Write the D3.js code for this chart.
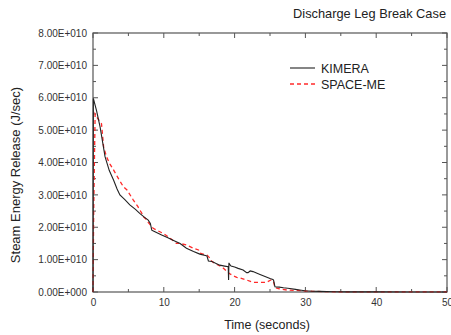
<!DOCTYPE html>
<html><head><meta charset="utf-8">
<script src="https://cdn.jsdelivr.net/npm/d3@7"></script>
<style>body{margin:0;background:#fff;}svg{display:block;font-family:Arial,"Liberation Sans",sans-serif;}</style>
</head><body>
<svg id="c" width="451" height="335"></svg>
<script>
const title = "Discharge Leg Break Case";
const xLabel = "Time (seconds)";
const yLabel = "Steam Energy Release (J/sec)";
const xTicks = [0,10,20,30,40,50];
const yTicks = [0,1e10,2e10,3e10,4e10,5e10,6e10,7e10,8e10];
const yTickLabels = ["0.00E+000","1.00E+010","2.00E+010","3.00E+010","4.00E+010","5.00E+010","6.00E+010","7.00E+010","8.00E+010"];
const seriesNames = ["KIMERA","SPACE-ME"];
// KIMERA (time s, value x1e10)
const kimeraT = [0,0.05,0.5,1.0,1.7,2.3,2.9,3.4,3.8,4.5,5.2,6.0,6.6,7.2,7.8,8.1,8.3,8.6,9.7,10.5,11.3,12.3,13.2,14.2,15.1,16.0,16.1,16.3,16.8,17.9,18.6,19.1,19.15,19.2,19.3,19.5,20.0,20.5,21.2,21.7,21.9,22.2,22.6,23.5,24.3,25.0,25.4,25.5,25.7,26.3,26.9,27.8,28.6,29.2,29.9,31.0,32.0,34,36,40,45,50];
const kimeraV = [0,5.98,5.6,5.1,4.18,3.75,3.46,3.18,3.0,2.85,2.69,2.55,2.43,2.32,2.22,2.12,1.91,1.88,1.76,1.68,1.6,1.5,1.35,1.25,1.17,1.12,1.11,0.96,0.94,0.83,0.8,0.78,0.37,0.9,0.85,0.8,0.77,0.73,0.68,0.6,0.6,0.65,0.63,0.55,0.48,0.42,0.39,0.37,0.16,0.15,0.13,0.11,0.08,0.06,0.04,0.025,0.02,0.01,0.005,0.003,0.002,0.001];
// SPACE-ME
const spaceT = [0,0.1,0.3,0.7,1.2,1.5,1.9,2.4,2.9,3.6,4.3,4.8,5.7,6.3,6.9,7.1,7.5,7.8,8.5,9.0,10.0,10.9,11.8,12.3,13.2,14.2,14.9,15.1,16.1,16.5,16.8,17.5,18.2,19.1,19.4,20.3,20.8,21.7,22.6,23.6,24.5,25.2,25.5,25.7,26.3,27.4,28.5,29.6,31,33,36,40,45,50];
const spaceV = [0,2.5,5.5,5.35,5.2,4.48,4.18,3.95,3.77,3.5,3.25,3.15,2.84,2.65,2.43,2.33,2.25,2.15,1.97,1.91,1.8,1.66,1.5,1.5,1.45,1.35,1.3,1.2,1.14,1.05,0.94,0.85,0.78,0.6,0.55,0.45,0.43,0.37,0.3,0.3,0.3,0.38,0.32,0.14,0.1,0.06,0.05,0.04,0.02,0.01,0.005,0.002,0.001,0.001];

const svg = d3.select("#c");
const x = d3.scaleLinear().domain([0,50]).range([93,447]);
const y = d3.scaleLinear().domain([0,8e10]).range([292,33]);
const axisColor = "#555";
const textColor = "#333";

// plot frame
svg.append("rect").attr("x",93).attr("y",33).attr("width",354).attr("height",259)
  .attr("fill","none").attr("stroke",axisColor).attr("stroke-width",1.2);

const g = svg.append("g");
const xMinor = d3.range(5,50,10);
const yMinor = d3.range(0.5e10,8e10,1e10);
function tick(x1,y1,x2,y2){ g.append("line").attr("x1",x1).attr("y1",y1).attr("x2",x2).attr("y2",y2).attr("stroke",axisColor); }
xTicks.forEach(t=>{ tick(x(t),292,x(t),287); tick(x(t),33,x(t),38); });
xMinor.forEach(t=>{ tick(x(t),292,x(t),289); tick(x(t),33,x(t),36); });
yTicks.forEach(v=>{ tick(93,y(v),98,y(v)); tick(447,y(v),442,y(v)); });
yMinor.forEach(v=>{ tick(93,y(v),96,y(v)); tick(447,y(v),444,y(v)); });

// tick labels via axes (no tick lines)
const xAxis = d3.axisBottom(x).tickValues(xTicks).tickSize(0).tickPadding(7).tickFormat(d3.format("d"));
const xa = svg.append("g").attr("transform","translate(0,292)").call(xAxis);
xa.select(".domain").remove();
xa.selectAll("text").attr("font-size",10).attr("fill",textColor).attr("font-family","Arial, 'Liberation Sans', sans-serif");

const yAxis = d3.axisLeft(y).tickValues(yTicks).tickSize(0).tickPadding(6).tickFormat((d,i)=>yTickLabels[i]);
const ya = svg.append("g").attr("transform","translate(93,0)").call(yAxis);
ya.select(".domain").remove();
ya.selectAll("text").attr("font-size",10).attr("fill",textColor).attr("font-family","Arial, 'Liberation Sans', sans-serif");

// lines
const line = d3.line().x(d=>x(d[0])).y(d=>y(d[1]*1e10));
const kimera = kimeraT.map((t,i)=>[t,kimeraV[i]]);
const space = spaceT.map((t,i)=>[t,spaceV[i]]);
svg.append("path").datum(space).attr("d",line).attr("fill","none")
  .attr("stroke","#ff2a2a").attr("stroke-width",1.3).attr("stroke-dasharray","4,3");
svg.append("path").datum(kimera).attr("d",line).attr("fill","none")
  .attr("stroke","#222").attr("stroke-width",1.1);

// legend
svg.append("line").attr("x1",290).attr("x2",315).attr("y1",68).attr("y2",68).attr("stroke","#222").attr("stroke-width",1.1);
svg.append("line").attr("x1",290).attr("x2",315).attr("y1",84).attr("y2",84).attr("stroke","#ff2a2a").attr("stroke-width",1.3).attr("stroke-dasharray","4,3");
svg.append("text").attr("x",321).attr("y",72.5).attr("font-size",12.5).attr("fill","#222").text(seriesNames[0]);
svg.append("text").attr("x",321).attr("y",88.5).attr("font-size",12.5).attr("fill","#222").text(seriesNames[1]);

// titles
svg.append("text").attr("x",446).attr("y",18).attr("text-anchor","end").attr("font-size",12.8).attr("fill","#222").text(title);
svg.append("text").attr("x",267).attr("y",329).attr("text-anchor","middle").attr("font-size",12.5).attr("fill","#222").text(xLabel);
svg.append("text").attr("transform","translate(20,175) rotate(-90)").attr("text-anchor","middle").attr("font-size",13).attr("fill","#222").text(yLabel);
</script>
</body></html>
